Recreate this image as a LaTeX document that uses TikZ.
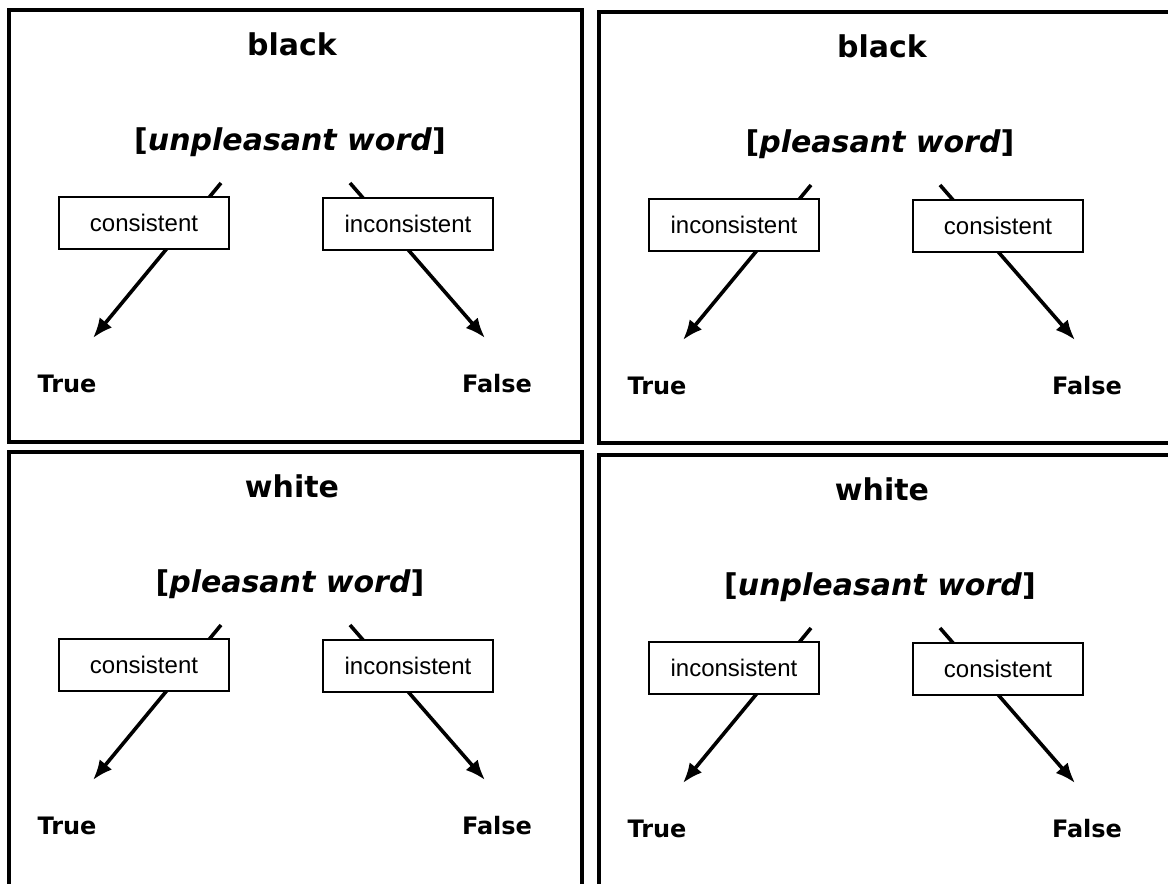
\documentclass[tikz,border=0pt]{standalone}
\usepackage{fontspec}
\setmainfont{DejaVu Sans}
\newfontfamily\boxfont{Liberation Sans}
\usetikzlibrary{arrows.meta}

\tikzset{
  panel/.style={draw, line width=2pt},
  heading/.style={font=\bfseries\fontsize{15}{18}\selectfont},
  choice/.style={draw, line width=0.8pt, fill=white, minimum width=85pt,
    minimum height=26pt, inner sep=0pt, font=\boxfont\fontsize{12}{14}\selectfont},
  answer/.style={font=\bfseries\fontsize{12}{14}\selectfont},
  route/.style={line width=1.8pt, -{Latex[length=10pt,width=8pt]}},
}

\begin{document}
\begin{tikzpicture}[x=0.5pt, y=-0.5pt]
  % page
  \useasboundingbox (0,0) rectangle (1168,884);
  \clip (0,0) rectangle (1168,884);

  % panels: name / shift / frame bottom / colour / word / left box / right box
  \foreach \p/\dx/\dy/\fb/\colr/\wrd/\lft/\rgt in {
      a/0/0/442/black/unpleasant/consistent/inconsistent,
      b/590/2/441/black/pleasant/inconsistent/consistent,
      c/0/442/452/white/pleasant/consistent/inconsistent,
      d/590/445/452/white/unpleasant/inconsistent/consistent}{
    \begin{scope}[shift={(\dx,\dy)}]
      % frame
      \draw[panel] (9,10) rectangle (582,\fb);

      % headings
      \node[heading] (\p-title) at (292,44) {\colr};
      \node[heading] (\p-word) at (290,142) {[\textit{\wrd\ word}]};

      % routes
      \coordinate (\p-ls) at (221,183);
      \coordinate (\p-lt) at (93,338);
      \coordinate (\p-rs) at (350,183);
      \coordinate (\p-rt) at (485,338);
      \draw[route] (\p-ls) -- (\p-lt);
      \draw[route] (\p-rs) -- (\p-rt);

      % boxes and answers
      \node[choice] (\p-left) at (144,223) {\lft};
      \node[choice] (\p-right) at (408,224) {\rgt};
      \node[answer] (\p-true) at (67,384) {True};
      \node[answer] (\p-false) at (497,384) {False};
    \end{scope}
  }
\end{tikzpicture}
\end{document}
